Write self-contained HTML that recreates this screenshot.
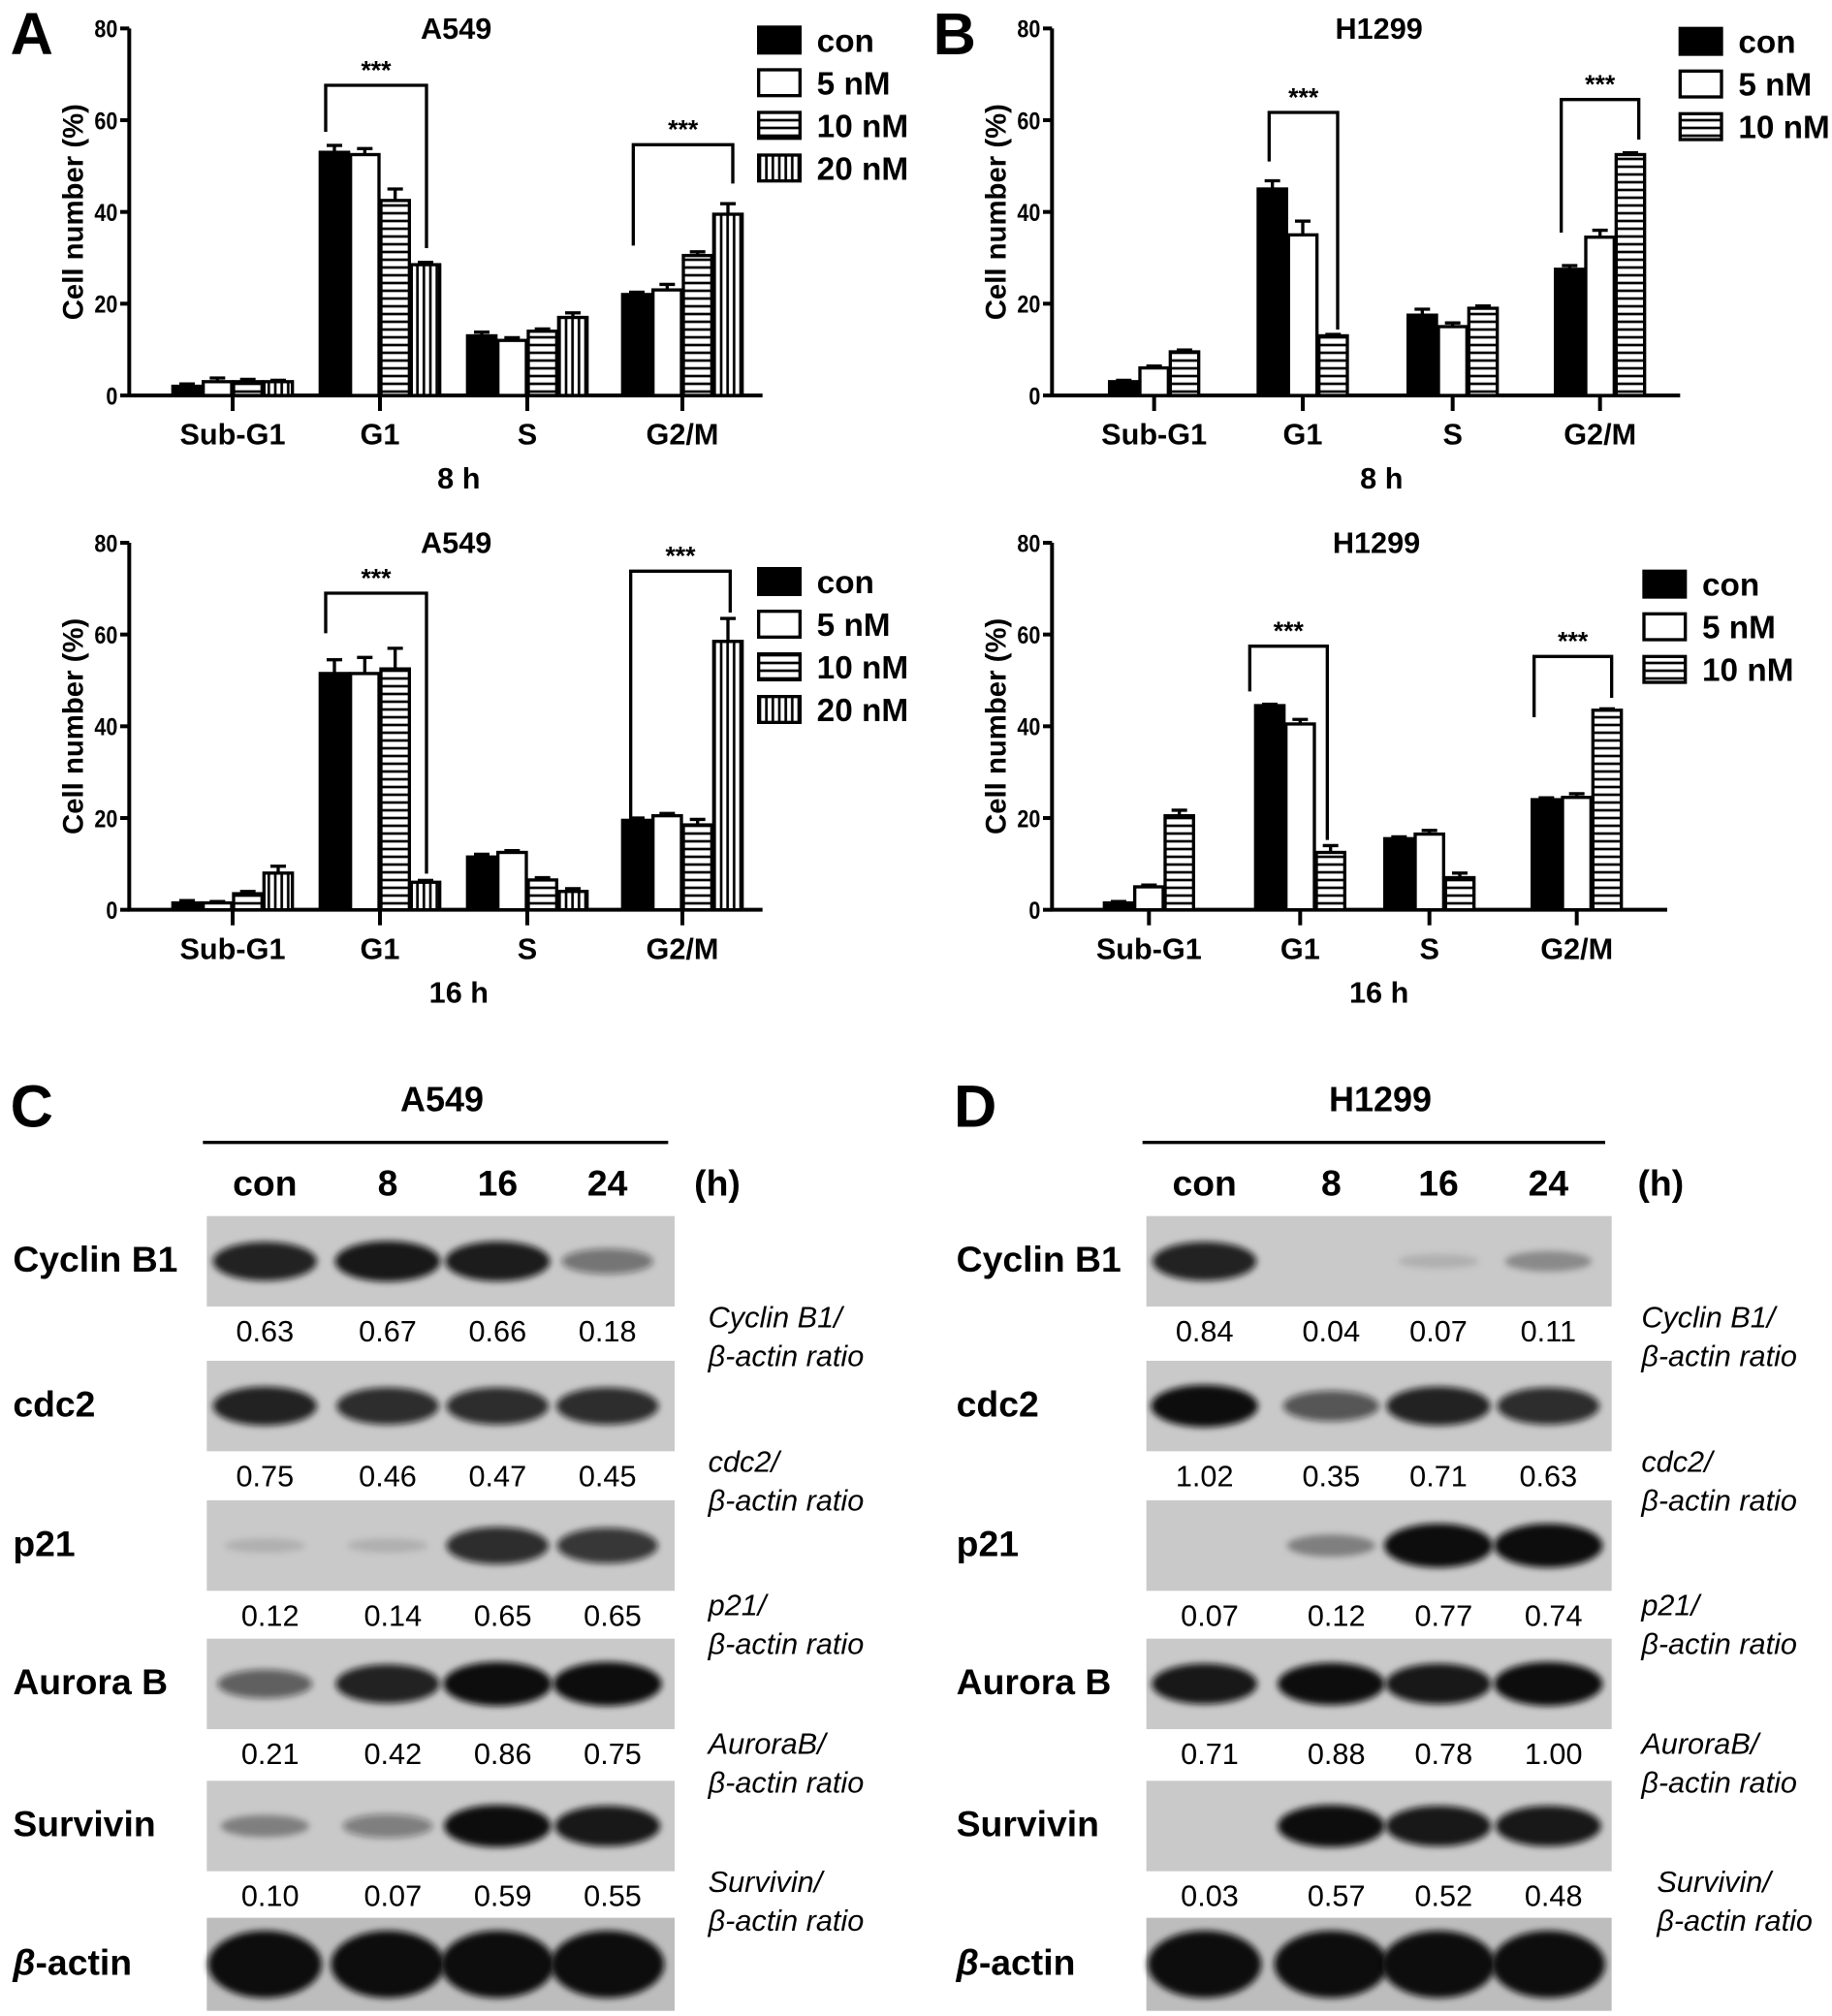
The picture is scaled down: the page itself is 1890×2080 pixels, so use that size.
<!DOCTYPE html>
<html><head><meta charset="utf-8">
<style>
html,body{margin:0;padding:0;background:#fff;}
svg{display:block;font-family:"Liberation Sans",Arial,sans-serif;}
</style></head>
<body>
<svg id="fig" width="1890" height="2080" viewBox="0 0 1417.5 1560" xmlns="http://www.w3.org/2000/svg">
<defs>
<pattern id="hstripe" width="6" height="6" patternUnits="userSpaceOnUse"><rect width="6" height="6" fill="#fff"/><rect y="2" width="6" height="2" fill="#000"/></pattern>
<pattern id="vstripe" width="5" height="6" patternUnits="userSpaceOnUse"><rect width="5" height="6" fill="#fff"/><rect x="2" width="2" height="6" fill="#000"/></pattern>
<filter id="blur" x="-30%" y="-100%" width="160%" height="300%"><feGaussianBlur stdDeviation="2.5"/></filter>
</defs>
<g id="root"></g>
</svg>
<script>
// ---- Chart data ----
const catsA = ["Sub-G1","G1","S","G2/M"];
const seriesA = ["con","5 nM","10 nM","20 nM"];
const seriesB = ["con","5 nM","10 nM"];
const ticksY = [0,20,40,60,80];
// A 8h
const a8_con = [2,53,13,22];
const a8_5 = [3,52.5,12,23];
const a8_10 = [3,42.5,14,30.5];
const a8_20 = [3,28.5,17,39.5];
const a8_err = [[0.5,1.5,0.8,0.5],[0.8,1.3,0.6,1.2],[0.5,2.5,0.5,0.8],[0.3,0.5,1,2.3]];
// A 16h
const a16_con = [1.5,51.5,11.5,19.5];
const a16_5 = [1.5,51.5,12.5,20.5];
const a16_10 = [3.5,52.5,6.5,18.5];
const a16_20 = [8,6,4,58.5];
const a16_err = [[0.5,3,0.6,0.5],[0.3,3.5,0.4,0.5],[0.5,4.5,0.5,1.2],[1.5,0.4,0.6,5]];
// B 8h
const b8_con = [3,45,17.5,27.5];
const b8_5 = [6,35,15,34.5];
const b8_10 = [9.5,13,19,52.5];
const b8_err = [[0.3,1.8,1.3,0.8],[0.4,3,0.8,1.5],[0.4,0.3,0.5,0.4]];
// B 16h
const b16_con = [1.5,44.5,15.5,24];
const b16_5 = [5,40.5,16.5,24.5];
const b16_10 = [20.5,12.5,7,43.5];
const b16_err = [[0.3,0.3,0.4,0.4],[0.4,1,0.8,0.8],[1.2,1.5,1,0.3]];

const NS="http://www.w3.org/2000/svg";
const root=document.getElementById('root');
function el(tag,attrs,parent,txt){const e=document.createElementNS(NS,tag);for(const k in attrs)e.setAttribute(k,attrs[k]);if(txt!==undefined)e.textContent=txt;(parent||root).appendChild(e);return e;}
const fills=["#000","#fff","url(#hstripe)","url(#vstripe)"];

function chart(cfg){
  const g=el('g',{});
  
  
  const y=v=>cfg.y0-(v/80)*(cfg.y0-cfg.y80);
  el('line',{x1:cfg.ax,y1:cfg.y80,x2:cfg.ax,y2:cfg.y0+1,stroke:'#000','stroke-width':3},g);
  el('line',{x1:cfg.ax-1,y1:cfg.y0,x2:cfg.xEnd,y2:cfg.y0,stroke:'#000','stroke-width':3},g);
  ticksY.forEach(t=>{
    el('line',{x1:cfg.ax-7,y1:y(t),x2:cfg.ax,y2:y(t),stroke:'#000','stroke-width':3},g);
    const tl=el('text',{x:cfg.ax-9,y:y(t)+7,'text-anchor':'end','font-size':19,'font-weight':'bold',transform:`translate(${cfg.ax-9},0) scale(0.85,1) translate(${-(cfg.ax-9)},0)`},g,t);
    
    
  });
  const yl=el('text',{x:0,y:0,transform:`translate(${cfg.ax-36},${(cfg.y0+cfg.y80)/2}) rotate(-90)`,'text-anchor':'middle','font-size':22,'font-weight':'bold'},g,'Cell number (%)');
  
  
  const n=cfg.series.length, bw=22, gap=1.5;
  catsA.forEach((c,i)=>{
    const cx=cfg.centers[i];
    el('line',{x1:cx,y1:cfg.y0,x2:cx,y2:cfg.y0+12,stroke:'#000','stroke-width':3},g);
    const cl=el('text',{x:cx,y:cfg.y0+38,'text-anchor':'middle','font-size':23,'font-weight':'bold'},g,c);
    
    
    const start=cx-(n*bw+(n-1)*gap)/2;
    cfg.series.forEach((s,j)=>{
      const v=s[i], bx=start+j*(bw+gap);
      const e=cfg.err[j][i];
      el('line',{x1:bx+bw/2,y1:y(v),x2:bx+bw/2,y2:y(v+e),stroke:'#000','stroke-width':2.5},g);
      el('line',{x1:bx+bw/2-6,y1:y(v+e),x2:bx+bw/2+6,y2:y(v+e),stroke:'#000','stroke-width':2.5},g);
      const b=el('rect',{x:bx,y:y(v),width:bw,height:cfg.y0-y(v),fill:fills[j],stroke:'#000','stroke-width':2.5},g);
      
      
    });
  });
  const tt=el('text',{x:cfg.titleX,y:cfg.y80+8,'text-anchor':'middle','font-size':23,'font-weight':'bold'},g,cfg.title);
  
  
  const xt=el('text',{x:cfg.titleX+2,y:cfg.y0+72,'text-anchor':'middle','font-size':23,'font-weight':'bold'},g,cfg.time);
  
  
  cfg.legendNames.forEach((nm,j)=>{
    const ly=cfg.legY+j*33;
    const lg=el('g',{},g);
    
    
    el('rect',{x:cfg.legX,y:ly-10,width:32,height:20,fill:fills[j],stroke:'#000','stroke-width':2.5},lg);
    el('text',{x:cfg.legX+45,y:ly+9,'font-size':25,'font-weight':'bold'},lg,nm);
  });
  cfg.brackets.forEach(br=>{
    const p=el('path',{d:`M${br[0]},${br[2]} V${br[4]} H${br[1]} V${br[3]}`,fill:'none',stroke:'#000','stroke-width':2.5},g);
    
    
    const st=el('text',{x:(br[0]+br[1])/2,y:br[4]-5,'text-anchor':'middle','font-size':20,'font-weight':'bold'},g,'***');
    
    
  });
}
chart({name:'chart-a549-8h',ax:100,xEnd:590,y0:306,y80:22,centers:[180,294,408,528],series:[a8_con,a8_5,a8_10,a8_20],err:a8_err,title:'A549',titleX:353,time:'8 h',legendNames:seriesA,legX:587,legY:31,brackets:[[252,330,102,192,66],[490,567,190,142,112]]});
chart({name:'chart-a549-16h',ax:100,xEnd:590,y0:704,y80:420,centers:[180,294,408,528],series:[a16_con,a16_5,a16_10,a16_20],err:a16_err,title:'A549',titleX:353,time:'16 h',legendNames:seriesA,legX:587,legY:450,brackets:[[252,330,490,676,459],[488,565,692,474,442]]});
chart({name:'chart-h1299-8h',ax:814,xEnd:1300,y0:306,y80:22,centers:[893,1008,1124,1238],series:[b8_con,b8_5,b8_10],err:b8_err,title:'H1299',titleX:1067,time:'8 h',legendNames:seriesB,legX:1300,legY:32,brackets:[[982,1035,125,255,87],[1208,1268,180,108,77]]});
chart({name:'chart-h1299-16h',ax:814,xEnd:1290,y0:704,y80:420,centers:[889,1006,1106,1220],series:[b16_con,b16_5,b16_10],err:b16_err,title:'H1299',titleX:1065,time:'16 h',legendNames:seriesB,legX:1272,legY:452,brackets:[[967,1027,535,650,500],[1187,1247,555,540,508]]});

[['A',8,42],['B',722,42],['C',8,872],['D',738,872]].forEach(p=>{
  const t=el('text',{x:p[1],y:p[2],'font-size':46,'font-weight':'bold'},root,p[0]);
  
  
});

// ---- Western blots ----
const proteins=["Cyclin B1","cdc2","p21","Aurora B","Survivin"];
const rowY=[941,1053,1161,1268,1378,1484];
const ratioC=[["0.63","0.67","0.66","0.18"],["0.75","0.46","0.47","0.45"],["0.12","0.14","0.65","0.65"],["0.21","0.42","0.86","0.75"],["0.10","0.07","0.59","0.55"]];
const ratioD=[["0.84","0.04","0.07","0.11"],["1.02","0.35","0.71","0.63"],["0.07","0.12","0.77","0.74"],["0.71","0.88","0.78","1.00"],["0.03","0.57","0.52","0.48"]];
const intC=[[0.85,0.9,0.88,0.45],[0.85,0.8,0.8,0.8],[0.12,0.12,0.8,0.75],[0.55,0.85,1,1],[0.35,0.4,0.95,0.9],[1,1,1,1]];
const intD=[[0.85,0,0.12,0.3],[0.95,0.6,0.85,0.8],[0,0.35,1,1],[0.9,0.95,0.9,1],[0,0.95,0.9,0.9],[0.95,0.95,0.95,0.95]];
const ratioLabels=["Cyclin B1/","cdc2/","p21/","AuroraB/","Survivin/"];
function blot(cfg){
  const g=el('g',{});
  
  
  const h=el('text',{x:cfg.hx,y:860,'text-anchor':'middle','font-size':27,'font-weight':'bold'},g,cfg.title);
  
  
  el('line',{x1:cfg.x0-3,y1:884,x2:cfg.x1-5,y2:884,stroke:'#000','stroke-width':2.5},g);
  ["con","8","16","24","(h)"].forEach((l,i)=>{
    const t=el('text',{x:cfg.cols[i],y:925,'text-anchor':'middle','font-size':28,'font-weight':'bold'},g,l);
    
    
  });
  rowY.forEach((ry,r)=>{
    const hgt=r===5?72:70;
    const bg=el('rect',{x:cfg.x0,y:ry,width:cfg.x1-cfg.x0,height:hgt,fill:r===5?'#bdbdbd':'#c9c9c9'},g);
    
    
    cfg.ints[r].forEach((v,i)=>{
      if(v<=0)return;
      const w=r===5?44:(30+v*12), hh=r===5?26:(4+v*13);
      el('ellipse',{cx:cfg.cols[i],cy:ry+hgt/2,rx:w,ry:hh,fill:'#111','fill-opacity':Math.min(1,v*1.05),filter:'url(#blur)'},g);
    });
    const name=r===5?'β-actin':proteins[r];
    const lbl=el('text',{x:cfg.lx,y:ry+hgt/2+8,'font-size':28,'font-weight':'bold'},g);
    
    
    if(r===5){el('tspan',{'font-style':'italic'},lbl,'β');el('tspan',{},lbl,'-actin');}
    else lbl.textContent=name;
    if(r<5){
      cfg.ratios[r].forEach((v,i)=>{
        const t=el('text',{x:cfg.cols[i]+(r>=2?4:0),y:ry+hgt+27,'text-anchor':'middle','font-size':23},g,v);
        
        
      });
      const off=(r===4&&cfg.name==='blot-h1299'?12:0);
      const rl=el('text',{x:cfg.rx+off,y:ry+hgt+16+(r===2||r===3?3:0),'font-size':23,'font-style':'italic'},g,ratioLabels[r]);
      
      
      const rl2=el('text',{x:cfg.rx+off,y:ry+hgt+46+(r===2||r===3?3:0),'font-size':23,'font-style':'italic'},g,'β-actin ratio');
      
      
    }
  });
}
blot({name:'blot-a549',title:'A549',hx:342,x0:160,x1:522,cols:[205,300,385,470,555],ints:intC,ratios:ratioC,lx:10,rx:548});
blot({name:'blot-h1299',title:'H1299',hx:1068,x0:887,x1:1247,cols:[932,1030,1113,1198,1285],ints:intD,ratios:ratioD,lx:740,rx:1270});
</script>
</body></html>
